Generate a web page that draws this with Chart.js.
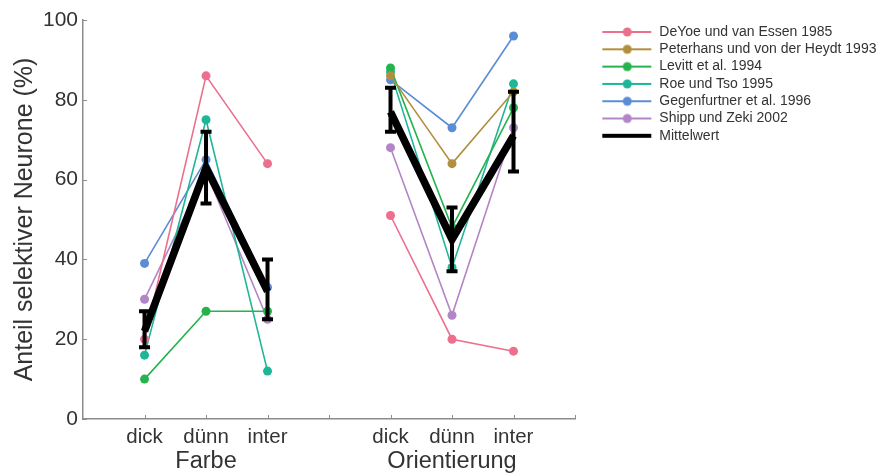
<!DOCTYPE html>
<html>
<head>
<meta charset="utf-8">
<script src="https://cdn.jsdelivr.net/npm/chart.js@4"></script>
<style>
  html, body { margin: 0; padding: 0; background: #fff; overflow: hidden; }
  canvas { display: block; }
</style>
</head>
<body>
<canvas id="chart" width="878" height="475"></canvas>
<script>
// categories on the x axis, one block per group
const categories = ['dick', 'dünn', 'inter'];
const groups = ['Farbe', 'Orientierung'];

// values per study (Farbe / Orientierung)
const deyoeFarbe = [20, 86, 64];
const deyoeOrient = [51, 20, 17];
const peterhansFarbe = [null, null, null];
const peterhansOrient = [86, 64, 82];
const levittFarbe = [10, 27, 27];
const levittOrient = [88, 48, 78];
const roeFarbe = [16, 75, 12];
const roeOrient = [87, 38, 84];
const gegenfurtnerFarbe = [39, 65, 33];
const gegenfurtnerOrient = [85, 73, 96];
const shippFarbe = [30, 62, 25];
const shippOrient = [68, 26, 73];

// mean with error range
const meanFarbe = [22, 63, 32];
const meanOrient = [77, 45, 71];
const errLowFarbe = [18, 54, 25];
const errHighFarbe = [27, 72, 40];
const errLowOrient = [72, 37, 62];
const errHighOrient = [83, 53, 82];

const yTicks = [0, 20, 40, 60, 80, 100];

// x layout: gap before, between and after the two groups
const xLabels = ['', ...categories, '', ...categories, ''];
const groupLabels = ['', '', groups[0], '', '', '', groups[1], '', ''];
const series = (a, b) => [null, ...a, null, ...b, null];

const errLow = series(errLowFarbe, errLowOrient);
const errHigh = series(errHighFarbe, errHighOrient);

const axisGrey = '#8c8c8c';
const textColor = '#333';

function study(label, color, farbe, orient) {
    return {
        label: label,
        data: series(farbe, orient),
        borderColor: color,
        backgroundColor: color,
        borderWidth: 1.6,
        pointRadius: 4.5,
        pointHoverRadius: 4.5,
        pointBorderWidth: 0,
        order: 2
    };
}

// legend icon: line with a dot, or a thick bar for the mean
function legendIcon(color, dot) {
    const c = document.createElement('canvas');
    c.width = 74;
    c.height = 14;
    const g = c.getContext('2d');
    if (dot) {
        g.strokeStyle = color;
        g.lineWidth = 1.8;
        g.beginPath();
        g.moveTo(24, 7);
        g.lineTo(73, 7);
        g.stroke();
        g.fillStyle = color;
        g.beginPath();
        g.arc(49, 7, 4.5, 0, Math.PI * 2);
        g.fill();
    } else {
        g.fillStyle = color;
        g.fillRect(24, 5, 49, 4);
    }
    return c;
}

const errorBars = {
    id: 'errorBars',
    afterDatasetsDraw(chart) {
        const { ctx, scales: { x, y } } = chart;
        ctx.save();
        ctx.strokeStyle = '#000';
        ctx.lineWidth = 4;
        ctx.beginPath();
        errLow.forEach((lo, i) => {
            if (lo === null) return;
            const px = x.getPixelForValue(i);
            const top = y.getPixelForValue(errHigh[i]);
            const bot = y.getPixelForValue(lo);
            ctx.moveTo(px, top);
            ctx.lineTo(px, bot);
            ctx.moveTo(px - 5.5, top);
            ctx.lineTo(px + 5.5, top);
            ctx.moveTo(px - 5.5, bot);
            ctx.lineTo(px + 5.5, bot);
        });
        ctx.stroke();
        ctx.restore();
    }
};

// small tick marks pointing into the plot
const innerTicks = {
    id: 'innerTicks',
    beforeDatasetsDraw(chart) {
        const { ctx, scales: { x, y }, chartArea } = chart;
        ctx.save();
        ctx.strokeStyle = axisGrey;
        ctx.lineWidth = 1;
        ctx.beginPath();
        x.ticks.forEach((t, i) => {
            if (i === 0) return;
            const px = Math.round(x.getPixelForTick(i)) + 0.5;
            ctx.moveTo(px, chartArea.bottom);
            ctx.lineTo(px, chartArea.bottom - 4);
        });
        y.ticks.forEach((t, i) => {
            const py = Math.round(y.getPixelForTick(i)) + 0.5;
            ctx.moveTo(chartArea.left, py);
            ctx.lineTo(chartArea.left + 4, py);
        });
        ctx.stroke();
        ctx.restore();
    }
};

Chart.defaults.font.family = '"Liberation Sans", Arial, sans-serif';
Chart.defaults.color = textColor;

const chart = new Chart(document.getElementById('chart'), {
    type: 'line',
    data: {
        labels: xLabels,
        datasets: [
            study('DeYoe und van Essen 1985', '#ec6f8d', deyoeFarbe, deyoeOrient),
            study('Peterhans und von der Heydt 1993', '#b28f3e', peterhansFarbe, peterhansOrient),
            study('Levitt et al. 1994', '#26b34e', levittFarbe, levittOrient),
            study('Roe und Tso 1995', '#1db697', roeFarbe, roeOrient),
            study('Gegenfurtner et al. 1996', '#5a8dd5', gegenfurtnerFarbe, gegenfurtnerOrient),
            study('Shipp und Zeki 2002', '#b285c6', shippFarbe, shippOrient),
            {
                label: 'Mittelwert',
                data: series(meanFarbe, meanOrient),
                borderColor: '#000',
                backgroundColor: '#000',
                borderWidth: 7.5,
                borderJoinStyle: 'miter',
                pointRadius: 0,
                pointHoverRadius: 0,
                order: 1
            }
        ]
    },
    options: {
        responsive: false,
        animation: false,
        layout: { padding: { top: 20, left: 12, right: 0, bottom: 0 } },
        plugins: {
            tooltip: { enabled: false },
            legend: {
                position: 'right',
                align: 'start',
                maxWidth: 303,
                title: { display: true, text: ' ', font: { size: 1, lineHeight: 1 }, padding: { top: 0.7, bottom: 0 } },
                labels: {
                    usePointStyle: true,
                    pointStyleWidth: 74,
                    padding: 3.3,
                    color: textColor,
                    font: { size: 14 },
                    generateLabels(chart) {
                        return chart.data.datasets.map((ds, i) => ({
                            text: ds.label,
                            datasetIndex: i,
                            fontColor: textColor,
                            pointStyle: legendIcon(ds.borderColor, ds.pointRadius > 0),
                            lineWidth: 0,
                            strokeStyle: 'transparent',
                            fillStyle: 'transparent',
                            hidden: false
                        }));
                    }
                }
            }
        },
        scales: {
            x: {
                type: 'category',
                offset: false,
                weight: 0,
                grid: { display: false, drawTicks: false },
                border: { display: true, color: axisGrey, width: 1.5 },
                ticks: {
                    autoSkip: false,
                    maxRotation: 0,
                    padding: 8,
                    font: { size: 20.5, lineHeight: 1 }
                },
                afterFit(scale) { scale.height = 31; }
            },
            x2: {
                type: 'category',
                labels: groupLabels,
                position: 'bottom',
                offset: false,
                weight: 1,
                grid: { display: false, drawTicks: false },
                border: { display: false },
                ticks: {
                    autoSkip: false,
                    maxRotation: 0,
                    padding: 0,
                    font: { size: 23.5, lineHeight: 1 }
                },
                afterFit(scale) { scale.height = 25; }
            },
            y: {
                min: 0,
                max: 100,
                afterBuildTicks(scale) {
                    scale.ticks = yTicks.map(v => ({ value: v }));
                },
                grid: { display: false, drawTicks: false },
                border: { display: true, color: axisGrey, width: 1.5 },
                ticks: {
                    padding: 5,
                    font: { size: 21 }
                },
                title: {
                    display: true,
                    text: 'Anteil selektiver Neurone (%)',
                    font: { size: 25, lineHeight: 1 },
                    color: textColor,
                    padding: { top: 0.5, bottom: 0.5 }
                }
            }
        }
    },
    plugins: [innerTicks, errorBars]
});
</script>
</body>
</html>
